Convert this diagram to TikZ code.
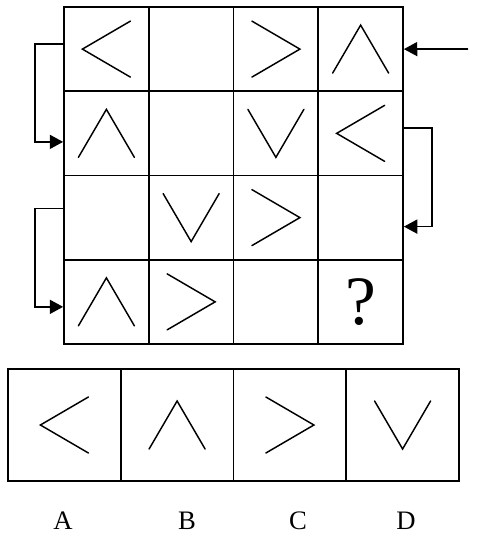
\documentclass[tikz,border=0pt]{standalone}
\usepackage{fontspec}
\setmainfont{Liberation Serif}
\usetikzlibrary{arrows.meta}
\tikzset{
  cell/.style={draw=black, line width=1.3pt, minimum width=63.6pt, minimum height=63.2pt, inner sep=0pt},
  opt/.style={cell, minimum width=84.6pt, minimum height=84pt},
  sym/.style={line width=1.1pt, line cap=round},
  a/.style={-{Triangle[length=10pt, width=10.5pt]}, line width=1.3pt},
  lbl/.style={font=\fontsize{20}{24}\selectfont, anchor=base},
  qm/.style={font=\fontsize{52}{60}\selectfont, inner sep=0pt},
  chevL/.pic={\draw[sym] (24,-28) -- (-24,0) -- (24,28);},
  chevR/.pic={\draw[sym] (-24,-28) -- (24,0) -- (-24,28);},
  chevU/.pic={\draw[sym] (-28,24) -- (0,-24) -- (28,24);},
  chevD/.pic={\draw[sym] (-28,-24) -- (0,24) -- (28,-24);},
}
\begin{document}
\begin{tikzpicture}[x=0.75pt, y=-0.75pt]
\useasboundingbox (0,0) rectangle (479,537);
% puzzle grid
\foreach \r in {0,...,3}
  \foreach \c in {0,...,3}
    \node[cell] (c\r\c) at ({106.4+84.75*\c},{49.1+84.25*\r}) {};
\pic at (c00) {chevL};
\pic at (c02) {chevR};
\pic at (c03) {chevU};
\pic at (c10) {chevU};
\pic at (c12) {chevD};
\pic at (c13) {chevL};
\pic at (c21) {chevD};
\pic at (c22) {chevR};
\pic at (c30) {chevU};
\pic at (c31) {chevR};
\node[qm] (q) at (c33) {?};

% reading order
\coordinate (in) at (468,49);
\draw[a] (in) -- (c03.east);
\draw[a] ([yshift=4pt]c13.east) -- ++(28,0) |- ([yshift=-6.75pt]c23.east);
\draw[a] ([yshift=3.75pt]c00.west) -- ++(-28,0) |- ([yshift=-6.4pt]c10.west);
\draw[a] ([yshift=6.75pt]c20.west) -- ++(-28,0) |- ([yshift=-3.75pt]c30.west);

% options
\node[opt] (oA) at (64.4,425) {};
\node[opt] (oB) at (177.1,425) {};
\node[opt] (oC) at (289.9,425) {};
\node[opt] (oD) at (402.6,425) {};
\pic at (oA) {chevL};
\pic at (oB) {chevU};
\pic at (oC) {chevR};
\pic at (oD) {chevD};
\node[lbl] (lA) at (63,529) {A};
\node[lbl] (lB) at (187,529) {B};
\node[lbl] (lC) at (298,529) {C};
\node[lbl] (lD) at (406,529) {D};
\end{tikzpicture}
\end{document}
